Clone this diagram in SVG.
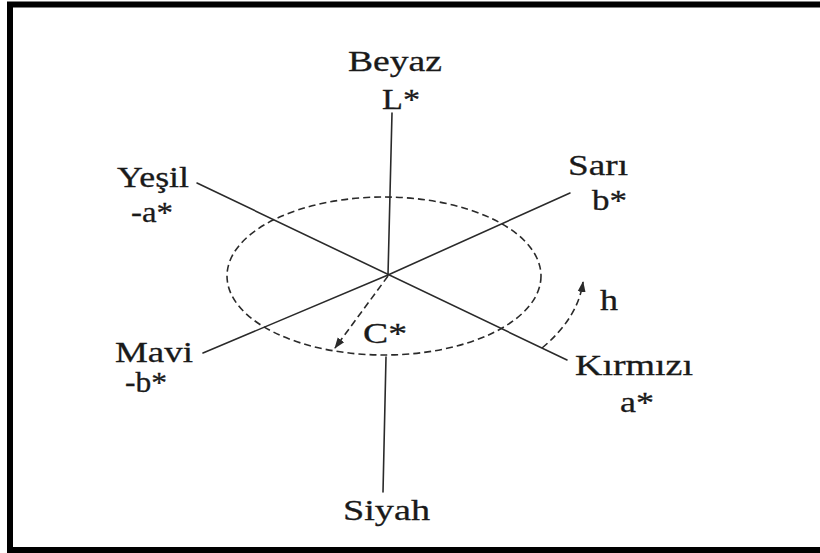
<svg xmlns="http://www.w3.org/2000/svg" width="820" height="553" viewBox="0 0 820 553">
<style>
.lbl{font-family:"Liberation Serif","Times New Roman",serif;font-size:30px;fill:#1a1a1a;stroke:#1a1a1a;stroke-width:0.3}
.ax{stroke:#2a2a2a;stroke-width:1.6;fill:none;stroke-linecap:round}
.dash{stroke:#2a2a2a;stroke-width:1.6;fill:none;stroke-dasharray:7,4}
</style>
<defs>
<marker id="ah" markerWidth="12" markerHeight="10" refX="10" refY="5" orient="auto" markerUnits="userSpaceOnUse">
<path d="M0,1 L11,5 L0,9 Z" fill="#2a2a2a"/>
</marker>
</defs>
<rect x="0" y="0" width="820" height="553" fill="#fff"/>
<g id="frame">
<path d="M10,553 V4.5 H820" fill="none" stroke="#000" stroke-width="6"/>
<path d="M7,550 H820" fill="none" stroke="#000" stroke-width="6"/>
</g>
<g id="connectors">
<path class="ax" d="M392,113 L388,275"/>
<path class="ax" d="M386,357 L383,492"/>
<path class="ax" d="M197,183 L567,360"/>
<path class="ax" d="M203,353 L388,275 L570,193"/>
<ellipse class="dash" cx="384" cy="276" rx="157" ry="79"/>
<path class="dash" d="M388,276 L335,348" marker-end="url(#ah)"/>
<path class="dash" d="M542,348 Q578,318 583,282" marker-end="url(#ah)"/>
</g>
<g id="beyaz"><text class="lbl" x="348" y="71" textLength="94" lengthAdjust="spacingAndGlyphs">Beyaz</text>
<text class="lbl" x="382" y="109" textLength="38" lengthAdjust="spacingAndGlyphs">L*</text></g>
<g id="yesil"><text class="lbl" x="117" y="187" textLength="72" lengthAdjust="spacingAndGlyphs">Yeşil</text>
<text class="lbl" x="131" y="222" textLength="42" lengthAdjust="spacingAndGlyphs">-a*</text></g>
<g id="sari"><text class="lbl" x="568" y="175" textLength="60" lengthAdjust="spacingAndGlyphs">Sarı</text>
<text class="lbl" x="592" y="210" textLength="35" lengthAdjust="spacingAndGlyphs">b*</text></g>
<g id="mavi"><text class="lbl" x="115" y="362" textLength="78" lengthAdjust="spacingAndGlyphs">Mavi</text>
<text class="lbl" x="125" y="392" textLength="42" lengthAdjust="spacingAndGlyphs">-b*</text></g>
<g id="kirmizi"><text class="lbl" x="575" y="375" textLength="118" lengthAdjust="spacingAndGlyphs">Kırmızı</text>
<text class="lbl" x="620" y="412" textLength="34" lengthAdjust="spacingAndGlyphs">a*</text></g>
<g id="chroma"><text class="lbl" x="363" y="343" textLength="44" lengthAdjust="spacingAndGlyphs">C*</text></g>
<g id="hue"><text class="lbl" x="600" y="310" textLength="18" lengthAdjust="spacingAndGlyphs">h</text></g>
<g id="siyah"><text class="lbl" x="343" y="520" textLength="87" lengthAdjust="spacingAndGlyphs">Siyah</text></g>
</svg>
